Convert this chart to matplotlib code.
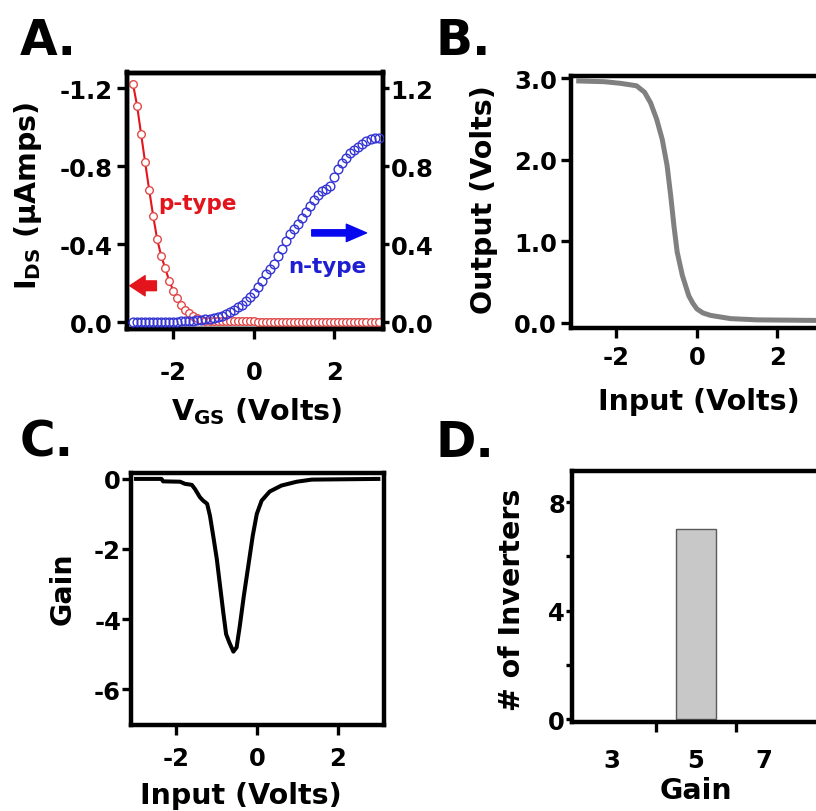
import numpy as np
import matplotlib
matplotlib.use("Agg")
import matplotlib.pyplot as plt
from matplotlib.ticker import FixedLocator, FormatStrFormatter

plt.rcParams["font.family"] = ["DejaVu Sans"]
plt.rcParams["font.weight"] = "bold"
plt.rcParams["axes.labelweight"] = "bold"
plt.rcParams["axes.unicode_minus"] = False
plt.rcParams["mathtext.default"] = "bf"

# ---- data -------------------------------------------------------------
vgs = np.round(np.arange(-3.0, 3.1001, 0.1), 1)

p_type_ids = [-1.22, -1.11, -0.965, -0.82, -0.68, -0.545, -0.425, -0.34, -0.276,
              -0.212, -0.162, -0.125, -0.091, -0.065, -0.045, -0.030, -0.020,
              -0.013, -0.009, -0.007, -0.006, -0.006, -0.007, -0.007, -0.006,
              -0.006, -0.005, -0.005, -0.005, -0.004, -0.004,
              -0.003, -0.003, -0.003, -0.003, -0.003, -0.003, -0.003, -0.003,
              -0.002, -0.002, -0.002, -0.002, -0.002, -0.002, -0.002, -0.002,
              -0.002, -0.002, -0.002, -0.002, -0.002, -0.002, -0.002, -0.002,
              -0.002, -0.002, -0.002, -0.002, -0.002, -0.002, -0.002]

n_type_ids = [0.000, 0.000, 0.000, 0.001, 0.001, 0.001, 0.001, 0.002, 0.002,
              0.002, 0.003,
              0.003, 0.004, 0.005, 0.006, 0.008, 0.010, 0.013, 0.016, 0.019,
              0.023, 0.028, 0.034, 0.042, 0.052, 0.063, 0.076, 0.090, 0.108,
              0.128, 0.152, 0.180, 0.212, 0.245, 0.272, 0.300, 0.338, 0.375,
              0.415, 0.450, 0.478, 0.505, 0.535, 0.565, 0.597, 0.627, 0.652,
              0.672, 0.685, 0.700, 0.742, 0.786, 0.815, 0.843, 0.865, 0.885,
              0.900, 0.915, 0.930, 0.937, 0.942, 0.945]

vin_transfer = [-3.0, -2.3, -1.9, -1.5, -1.3, -1.15, -1.0, -0.86, -0.74, -0.65,
                -0.57, -0.49, -0.36, -0.2, -0.1, 0.0, 0.15, 0.34, 0.84, 1.5, 3.2]
vout_transfer = [2.97, 2.96, 2.94, 2.91, 2.83, 2.70, 2.50, 2.25, 1.93, 1.56,
                 1.19, 0.87, 0.58, 0.33, 0.24, 0.17, 0.12, 0.09, 0.05, 0.035, 0.027]

vin_gain = [-3.0, -2.37, -2.33, -1.91, -1.79, -1.62, -1.54, -1.42, -1.34, -1.24,
            -1.17, -1.09, -1.0, -0.92, -0.84, -0.77, -0.69, -0.59, -0.51, -0.43,
            -0.33, -0.22, -0.11, -0.01, 0.11, 0.31, 0.60, 0.98, 1.35, 3.0]
gain = [0.0, 0.0, -0.07, -0.08, -0.14, -0.17, -0.29, -0.52, -0.62, -0.71,
        -1.05, -1.62, -2.29, -3.05, -3.81, -4.43, -4.67, -4.93, -4.81, -4.19,
        -3.33, -2.48, -1.62, -1.0, -0.62, -0.36, -0.19, -0.08, -0.02, 0.0]

gain_bins = [3, 5, 7]
inverter_counts = [0, 7, 0]
gain_bin_labels = ["3", "5", "7"]

# ---- layout helpers ---------------------------------------------------
W, H = 816, 812
fig = plt.figure(figsize=(W / 100, H / 100), dpi=100)


def box(l, t, r, b):
    return [l / W, 1 - b / H, (r - l) / W, (b - t) / H]


SPINE_LW = 3.2
TICK_LEN = 7
TICK_W = 2.4
TICK_FS = 17.5
LABEL_FS = 20.5

RED = "#e3141c"
BLUE = "#1f1fd2"


def style_axes(ax):
    for s in ax.spines.values():
        s.set_linewidth(SPINE_LW)
    ax.tick_params(direction="out", length=TICK_LEN, width=TICK_W,
                   labelsize=TICK_FS, top=False, right=False)


def place_labels(ax, xl, yl, px_box, xpos, ypos):
    l, t, r, b = px_box
    if xl is not None:
        ax.set_xlabel(xl, fontsize=LABEL_FS, va="center")
        ax.xaxis.set_label_coords((xpos[0] - l) / (r - l), (b - xpos[1]) / (b - t))
    if yl is not None:
        ax.set_ylabel(yl, fontsize=LABEL_FS, va="center")
        ax.yaxis.set_label_coords((ypos[0] - l) / (r - l), (b - ypos[1]) / (b - t))


# ---- A: transistor transfer curves -------------------------------------
boxA = (127, 73.5, 383, 329.5)
axA = fig.add_axes(box(*boxA))
style_axes(axA)
axA.set_xlim(-3.15, 3.21)
axA.set_ylim(0.032, -1.28)
axA.set_xticks([-2, 0, 2])
axA.set_yticks([-1.2, -0.8, -0.4, 0.0])
axA.yaxis.set_major_formatter(FormatStrFormatter("%.1f"))
axA.tick_params(axis="x", pad=16)
axA.tick_params(axis="y", pad=3.5)
axA.plot(vgs, p_type_ids, "-o", color=RED, lw=1.5, ms=5.5, mfc="white",
         mec="#e04a4a", mew=1.0, zorder=3)
axA.text(-2.38, -0.609, "p-type", color=RED, fontsize=15.5, ha="left",
         va="center", zorder=5)
axA.annotate("", xy=(-3.08, -0.187), xytext=(-2.42, -0.187),
             arrowprops=dict(arrowstyle="simple,head_length=1.1,head_width=1.45,tail_width=0.7",
                             mutation_scale=10, color=RED, shrinkA=0, shrinkB=0))
place_labels(axA, "V$_{GS}$ (Volts)", "I$_{DS}$ (µAmps)", boxA,
             (256.7, 412), (28, 196))

axAr = axA.twinx()
for s in axAr.spines.values():
    s.set_linewidth(SPINE_LW)
axAr.set_ylim(-0.032, 1.28)
axAr.set_yticks([0.0, 0.4, 0.8, 1.2])
axAr.yaxis.set_major_formatter(FormatStrFormatter("%.1f"))
axAr.tick_params(axis="y", direction="out", length=4.5, width=TICK_W,
                 labelsize=TICK_FS, pad=1)
axAr.plot(vgs, n_type_ids, "o", color=BLUE, ms=6.3, mfc="none",
          mec="#3434d4", mew=1.0, zorder=3)
axAr.text(1.84, 0.286, "n-type", color=BLUE, fontsize=15.5, ha="center",
          va="center")
axAr.annotate("", xy=(2.80, 0.458), xytext=(1.44, 0.458),
              arrowprops=dict(arrowstyle="simple,head_length=1.45,head_width=1.25,tail_width=0.45",
                              mutation_scale=10, color="#0808ee", shrinkA=0, shrinkB=0))

# ---- B: inverter transfer curve ----------------------------------------
boxB = (571, 77, 825.5, 329)
axB = fig.add_axes(box(*boxB))
style_axes(axB)
axB.set_xlim(-3.13, 3.2)
axB.set_ylim(-0.065, 3.03)
axB.set_xticks([-2, 0, 2])
axB.set_yticks([0.0, 1.0, 2.0, 3.0])
axB.yaxis.set_major_formatter(FormatStrFormatter("%.1f"))
axB.tick_params(axis="x", pad=5.5)
axB.tick_params(axis="y", pad=3)
axB.plot(vin_transfer, vout_transfer, color="#808080", lw=3.6,
         solid_capstyle="butt", solid_joinstyle="round")
place_labels(axB, "Input (Volts)", "Output (Volts)", boxB, (699, 402), (484, 200))

# ---- C: gain curve -----------------------------------------------------
boxC = (130.8, 474.3, 384, 726.2)
axC = fig.add_axes(box(*boxC))
style_axes(axC)
axC.set_xlim(-3.13, 3.14)
axC.set_ylim(-7.03, 0.16)
axC.set_xticks([-2, 0, 2])
axC.set_yticks([0, -2, -4, -6])
axC.tick_params(axis="x", pad=8)
axC.tick_params(axis="y", pad=0.5, length=6.5)
axC.plot(vin_gain, gain, color="black", lw=2.9, solid_joinstyle="round")
place_labels(axC, "Input (Volts)", "Gain", boxC, (241, 796), (63, 589))

# ---- D: gain histogram -------------------------------------------------
boxD = (572, 472, 830, 722.5)
axD = fig.add_axes(box(*boxD))
style_axes(axD)
axD.set_xlim(1.9, 8.35)
axD.set_ylim(-0.09, 9.15)
filled = [(g, c) for g, c in zip(gain_bins, inverter_counts) if c > 0]
axD.bar([g for g, _ in filled], [c for _, c in filled], width=1.0,
        color="#c8c8c8", edgecolor="#5a5a5a", linewidth=1.0, zorder=2)
axD.set_xticks([4, 6])
axD.set_xticklabels(["", ""])
axD.xaxis.set_minor_locator(FixedLocator([2.9, 5.0, 6.7]))
axD.set_xticklabels(gain_bin_labels, minor=True)
axD.tick_params(axis="x", which="minor", length=0, labelsize=TICK_FS, pad=19)
axD.set_yticks([0, 4, 8])
axD.yaxis.set_minor_locator(FixedLocator([2, 6]))
axD.tick_params(axis="y", which="both", length=4.5, width=TICK_W, pad=0.5,
                direction="out")
place_labels(axD, "Gain", "# of Inverters", boxD, (696, 791), (512, 600))

# ---- panel letters -----------------------------------------------------
for letter, (px, py) in {"A.": (20, 55), "B.": (435, 55),
                         "C.": (20, 457), "D.": (435, 457)}.items():
    fig.text(px / W, 1 - py / H, letter, fontsize=35, fontweight="bold",
             ha="left", va="baseline")

fig.savefig("out.png", dpi=100)
